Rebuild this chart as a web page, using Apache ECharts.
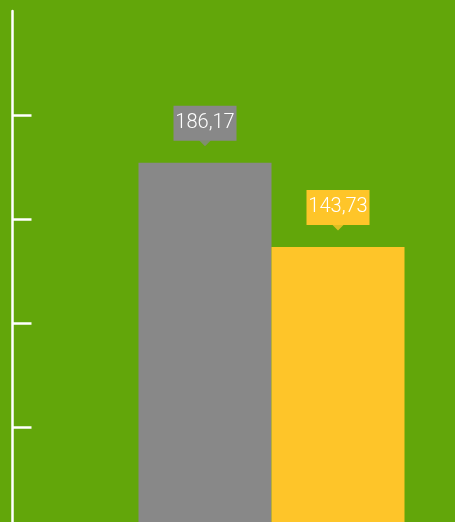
<!DOCTYPE html>
<html>
<head>
<meta charset="utf-8">
<style>
html,body{margin:0;padding:0;background:#62A60A;overflow:hidden;width:455px;height:522px;}
#chart{width:455px;height:532px;}
</style>
<script src="https://cdn.jsdelivr.net/npm/echarts@6/dist/echarts.min.js"></script>
</head>
<body>
<div id="chart"></div>
<script>
var categories = ['A', 'B'];
var values = [186.17, 143.73];
var barColors = ['#888888', '#FEC529'];
var axisMax = 262.8;
var axisInterval = 52.56;
var tickValues = [52.56, 105.12, 157.68, 210.24];

function fmt(v) { return v.toFixed(2).replace('.', ','); }

var chart = echarts.init(document.getElementById('chart'), null, {renderer: 'canvas'});
var barData = values.map(function (v, i) {
  return {value: v, itemStyle: {color: barColors[i]}, label: {backgroundColor: barColors[i]}};
});
var arrowData = values.map(function (v, i) {
  return {value: [i, v], itemStyle: {color: barColors[i]}};
});
chart.setOption({
  backgroundColor: '#62A60A',
  animation: false,
  grid: {left: 138.5, right: 50.5, top: 11, bottom: 0.3, containLabel: false},
  xAxis: {
    type: 'category', data: categories,
    axisLine: {show: false}, axisTick: {show: false}, axisLabel: {show: false}, splitLine: {show: false}
  },
  yAxis: {
    type: 'value', min: 0, max: axisMax, interval: axisInterval,
    offset: 126,
    axisLine: {show: true, lineStyle: {color: '#ffffff', width: 2.5}},
    axisTick: {show: true, inside: true, length: 19, customValues: tickValues, lineStyle: {color: '#ffffff', width: 2.5}},
    axisLabel: {show: false},
    splitLine: {show: false}
  },
  series: [
    {
      type: 'bar', data: barData, barCategoryGap: '0%',
      label: {
        show: true, position: 'top', distance: 22,
        formatter: function (p) { return fmt(p.value); },
        color: '#ffffff',
        fontFamily: "Roboto, 'Liberation Sans', sans-serif",
        fontWeight: 300,
        fontSize: 20,
        width: 63, height: 35, lineHeight: 35, align: 'center', padding: 0
      }
    },
    {
      type: 'scatter', data: arrowData, z: 5,
      symbol: 'path://M0,0L12,0L6,6Z', symbolSize: [12, 6], symbolOffset: [0, -19.5]
    }
  ]
});
</script>
</body>
</html>
